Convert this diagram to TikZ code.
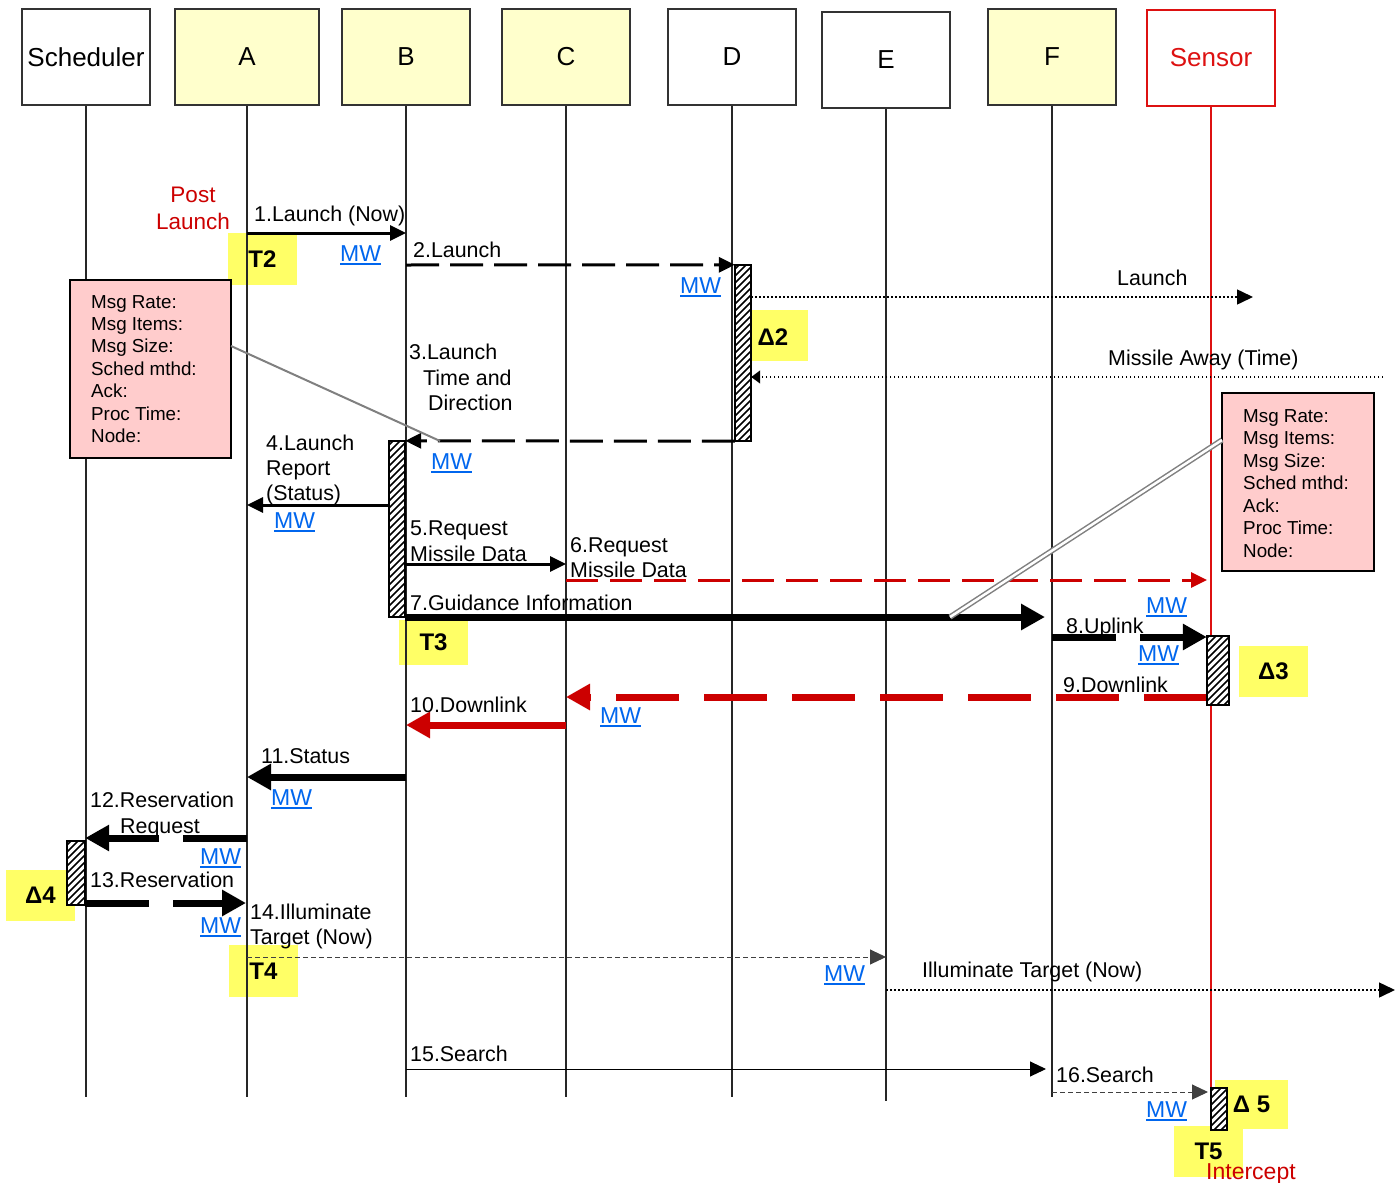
\documentclass[tikz,border=0pt]{standalone}
\usepackage{fontspec}
\setmainfont{Liberation Sans}
\usetikzlibrary{arrows.meta}
\definecolor{hdrY}{HTML}{FFFFCC}
\definecolor{markY}{HTML}{FFFF66}
\definecolor{pinkB}{HTML}{FFCCCC}
\definecolor{redA}{HTML}{CC0000}
\definecolor{redS}{HTML}{DD1111}
\definecolor{mwB}{HTML}{0066EE}
\newcommand{\ulmw}[1]{\setbox0\hbox{#1}\rlap{\rule[-3.5pt]{\wd0}{1.8pt}}\box0}
\begin{document}
\begin{tikzpicture}[x=1pt,y=-1pt,
  hdr/.style={draw=black!80, line width=2pt, minimum width=128pt, minimum height=96pt, inner sep=0pt, font=\fontsize{26}{30}\selectfont},
  life/.style={line width=2pt, draw=black!85},
  ymark/.style={fill=markY, inner sep=0pt, font=\fontsize{24}{28}\selectfont\bfseries},
  marktxt/.style={inner sep=0pt, font=\fontsize{24}{28}\selectfont\bfseries},
  lbl/.style={inner sep=0pt, anchor=base west, font=\fontsize{21.4}{25}\selectfont},
  mw/.style={inner sep=0pt, anchor=base west, text=mwB, font=\fontsize{23}{27}\selectfont},
  boxtxt/.style={inner sep=0pt, anchor=base west, font=\fontsize{18.8}{22}\selectfont},
  pinknote/.style={draw=black, line width=2.5pt, fill=pinkB, inner sep=0pt},
  med/.style={line width=3pt},
  thk/.style={line width=7pt},
  thinl/.style={line width=1pt},
  tipS/.style={-{Triangle[length=16pt,width=15pt]}},
  tipL/.style={-{Triangle[length=24pt,width=25pt]}},
  dotl/.style={line width=1.5pt, dash pattern=on 1.5pt off 2.5pt},
  thd/.style={line width=1pt, dash pattern=on 5pt off 3pt},
  hatch/.style={line width=1.6pt, draw=black}
]
\useasboundingbox (0,0) rectangle (1395,1183);

% yellow markers
\node[ymark, minimum width=69pt, minimum height=52pt] (T2) at (262.5,259) {T2};
\node[ymark, minimum width=69pt, minimum height=45pt] (T3) at (433.5,642.5) {T3};
\node[ymark, minimum width=69pt, minimum height=52pt] (T4) at (263.5,971) {T4};
\node[ymark, minimum width=73pt, minimum height=49pt] (D5) at (1251.5,1104.5) {Δ 5};
\node[ymark, minimum width=69pt, minimum height=51pt] (T5) at (1208.5,1151.5) {T5};
\node[ymark, minimum width=56pt, minimum height=51pt] (D2box) at (780,335.5) {};
\node[marktxt] (D2) at (773,337) {Δ2};
\node[ymark, minimum width=69pt, minimum height=51pt] (D3) at (1273.5,671.5) {Δ3};
\node[ymark, minimum width=69pt, minimum height=51pt] (D4) at (40.5,895.5) {Δ4};

% headers
\node[hdr] (Sch) at (86,57) {Scheduler};
\node[hdr, fill=hdrY, minimum width=144pt] (A) at (247,57) {A};
\node[hdr, fill=hdrY] (B) at (406,57) {B};
\node[hdr, fill=hdrY] (C) at (566,57) {C};
\node[hdr] (D) at (732,57) {D};
\node[hdr] (E) at (886,60) {E};
\node[hdr, fill=hdrY] (F) at (1052,57) {F};
\node[hdr, draw=redS, text=redS] (S) at (1211,57.5) {Sensor};

% lifelines
\coordinate (SchE) at (86,1097);
\coordinate (AE) at (247,1097);
\coordinate (BE) at (406,1097);
\coordinate (CE) at (566,1097);
\coordinate (DE) at (732,1097);
\coordinate (EE) at (886,1101);
\coordinate (FE) at (1052,1097);
\coordinate (SE) at (1211,1088);
\draw[life] (Sch.south) -- (SchE);
\draw[life] (A.south) -- (AE);
\draw[life] (B.south) -- (BE);
\draw[life] (C.south) -- (CE);
\draw[life] (D.south) -- (DE);
\draw[life] (E.south) -- (EE);
\draw[life] (F.south) -- (FE);
\draw[line width=1.6pt, redS] (S.south) -- (SE);

% activation nodes (positions)
\node[inner sep=0pt, minimum width=16pt, minimum height=176pt] (actD) at (743,353) {};
\node[inner sep=0pt, minimum width=16pt, minimum height=176pt] (actB) at (397,529) {};
\node[inner sep=0pt, minimum width=22pt, minimum height=69pt] (actS) at (1218,670.5) {};
\node[inner sep=0pt, minimum width=18pt, minimum height=64pt] (actSch) at (76,873) {};
\node[inner sep=0pt, minimum width=16pt, minimum height=42pt] (actS2) at (1219,1109) {};

% messages
\coordinate (m1a) at (247,233); \coordinate (m1b) at (406,233);
\draw[med, tipS] (m1a) -- (m1b);
\coordinate (m2a) at (406,265);
\draw[med, tipS, dash pattern=on 33pt off 11pt] (m2a) -- (actD.north west);
\coordinate (lnE) at (1253,297);
\draw[dotl, tipS] (actD.east |- lnE) -- (lnE);
\coordinate (maS) at (1383,377);
\draw[dotl, -{Triangle[length=9pt,width=13pt]}] (maS) -- (actD.east |- maS);
\draw[med, tipS, dash pattern=on 33pt off 11pt] (actD.south west) -- (actB.north east);
\coordinate (m4e) at (247,505);
\draw[med, tipS] (actB.west |- m4e) -- (m4e);
\coordinate (m5e) at (566,564);
\draw[med, tipS] (actB.east |- m5e) -- (m5e);
\coordinate (m6a) at (566,580); \coordinate (m6b) at (1207,580);
\draw[med, redA, tipS, dash pattern=on 32pt off 12pt] (m6a) -- (m6b);
\coordinate (m7a) at (405,617); \coordinate (m7b) at (1045,617);
\draw[thk, tipL] (m7a) -- (m7b);
\coordinate (m8a) at (1052,637);
\draw[thk, tipL, dash pattern=on 64pt off 24pt] (m8a) -- (actS.west |- m8a);
\coordinate (m9e) at (566,697);
\draw[thk, redA, tipL, dash pattern=on 63pt off 25pt] (actS.west |- m9e) -- (m9e);
\coordinate (m10a) at (566,725); \coordinate (m10b) at (406,725);
\draw[thk, redA, tipL] (m10a) -- (m10b);
\coordinate (m11a) at (406,777); \coordinate (m11b) at (247,777);
\draw[thk, tipL] (m11a) -- (m11b);
\coordinate (m12a) at (247,838);
\draw[thk, tipL, dash pattern=on 64pt off 24pt] (m12a) -- (actSch.east |- m12a);
\coordinate (m13e) at (246,903);
\draw[thk, tipL, dash pattern=on 64pt off 24pt] (actSch.east |- m13e) -- (m13e);
\coordinate (m14a) at (247,957); \coordinate (m14b) at (886,957);
\draw[thd, black!75, tipS] (m14a) -- (m14b);
\coordinate (ilA) at (886,990); \coordinate (ilB) at (1395,990);
\draw[dotl, tipS] (ilA) -- (ilB);
\coordinate (m15a) at (406,1069); \coordinate (m15b) at (1046,1069);
\draw[thinl, tipS] (m15a) -- (m15b);
\coordinate (m16a) at (1052,1092); \coordinate (m16b) at (1208,1092);
\draw[thd, black!75, tipS] (m16a) -- (m16b);

% activations drawn (white fill, hatching rising to the right, black border)
\foreach \n in {actD,actB,actS,actSch,actS2}{
  \fill[white] (\n.north west) rectangle (\n.south east);
  \begin{scope}
    \clip (\n.north west) rectangle (\n.south east);
    \foreach \k in {-200,-193,...,40}
      \draw[hatch] ([xshift=\k pt]\n.south west) -- ++(200,-200);
  \end{scope}
  \draw[line width=2.5pt] (\n.north west) rectangle (\n.south east);
}

% note boxes
\node[pinknote, minimum width=161pt, minimum height=178pt] (PL) at (150.5,369) {};
\foreach \t [count=\i] in {Msg Rate:,Msg Items:,Msg Size:,Sched mthd:,Ack:,Proc Time:,Node:}
  \node[boxtxt] (PLt\i) at (91,{308+22.4*(\i-1)}) {\t};
\node[pinknote, minimum width=152pt, minimum height=178pt] (PR) at (1298,482) {};
\foreach \t [count=\i] in {Msg Rate:,Msg Items:,Msg Size:,Sched mthd:,Ack:,Proc Time:,Node:}
  \node[boxtxt] (PRt\i) at (1243,{422+22.5*(\i-1)}) {\t};

% callout lines
\coordinate (glA) at (231,346); \coordinate (glB) at (440,441);
\draw[gray, line width=2pt] (glA) -- (glB);
\coordinate (dlA) at (1222,440); \coordinate (dlB) at (950,617);
\draw[draw=gray, double=white, line width=1.5pt, double distance=2.5pt] (dlA) -- (dlB);

% labels
\node[lbl, anchor=base, text=redA, font=\fontsize{22.5}{26}\selectfont] (post1) at (193,202) {Post};
\node[lbl, anchor=base, text=redA, font=\fontsize{22.5}{26}\selectfont] (post2) at (193,229) {Launch};
\node[lbl] (l1) at (254,221) {1.Launch (Now)};
\node[lbl] (l2) at (413,257) {2.Launch};
\node[lbl] (lLaunch) at (1117,285) {Launch};
\node[lbl] (lMA) at (1108,365) {Missile Away (Time)};
\node[lbl] (l3a) at (409,359) {3.Launch};
\node[lbl] (l3b) at (423,385) {Time and};
\node[lbl] (l3c) at (428,410) {Direction};
\node[lbl] (l4a) at (266,450) {4.Launch};
\node[lbl] (l4b) at (266,475) {Report};
\node[lbl] (l4c) at (266,500) {(Status)};
\node[lbl] (l5a) at (410,535) {5.Request};
\node[lbl] (l5b) at (410,561) {Missile Data};
\node[lbl] (l6a) at (570,552) {6.Request};
\node[lbl] (l6b) at (570,577) {Missile Data};
\node[lbl] (l7) at (410,610) {7.Guidance Information};
\node[lbl] (l8) at (1066,633) {8.Uplink};
\node[lbl] (l9) at (1063,692) {9.Downlink};
\node[lbl] (l10) at (410,712) {10.Downlink};
\node[lbl] (l11) at (261,763) {11.Status};
\node[lbl] (l12a) at (90,807) {12.Reservation};
\node[lbl] (l12b) at (120,833) {Request};
\node[lbl] (l13) at (90,887) {13.Reservation};
\node[lbl] (l14a) at (250,919) {14.Illuminate};
\node[lbl] (l14b) at (250,944) {Target (Now)};
\node[lbl] (lIT) at (922,977) {Illuminate Target (Now)};
\node[lbl] (l15) at (410,1061) {15.Search};
\node[lbl] (l16) at (1056,1082) {16.Search};
\node[lbl, text=redA, font=\fontsize{23}{27}\selectfont] (icpt) at (1206,1179) {Intercept};

% MW labels
\node[mw] (mw1) at (340,261) {\ulmw{MW}};
\node[mw] (mw2) at (680,293) {\ulmw{MW}};
\node[mw] (mw3) at (431,469) {\ulmw{MW}};
\node[mw] (mw4) at (274,528) {\ulmw{MW}};
\node[mw] (mw5) at (1146,613) {\ulmw{MW}};
\node[mw] (mw6) at (1138,661) {\ulmw{MW}};
\node[mw] (mw7) at (600,723) {\ulmw{MW}};
\node[mw] (mw8) at (271,805) {\ulmw{MW}};
\node[mw] (mw9) at (200,864) {\ulmw{MW}};
\node[mw] (mw10) at (200,933) {\ulmw{MW}};
\node[mw] (mw11) at (824,981) {\ulmw{MW}};
\node[mw] (mw12) at (1146,1117) {\ulmw{MW}};
\end{tikzpicture}
\end{document}
